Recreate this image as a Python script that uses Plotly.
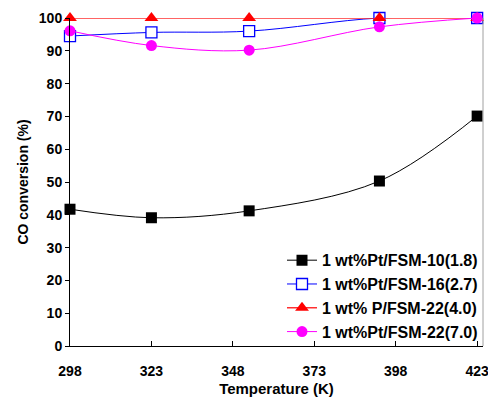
import plotly.graph_objects as go

temps = [298, 323, 353, 393, 423]
s_fsm10 = [41.7, 39.1, 41.2, 50.3, 70.1]
s_fsm16 = [94.5, 95.6, 96.0, 100.0, 100.0]
s_fsm22a = [100, 100, 100, 100, 100]
s_fsm22b = [96.1, 91.6, 90.2, 97.3, 100.0]
names = ["1 wt%Pt/FSM-10(1.8)", "1 wt%Pt/FSM-16(2.7)", "1 wt% P/FSM-22(4.0)", "1 wt%Pt/FSM-22(7.0)"]
x_ticks = [298, 323, 348, 373, 398, 423]
y_ticks = [0, 10, 20, 30, 40, 50, 60, 70, 80, 90, 100]

FONT = "Liberation Sans, Arial, sans-serif"

fig = go.Figure()
fig.add_trace(go.Scatter(x=temps, y=s_fsm10, name=names[0], mode="lines+markers",
                         line=dict(color="black", width=1, shape="spline"),
                         marker=dict(symbol="square", size=11, color="black"), cliponaxis=False))
fig.add_trace(go.Scatter(x=temps, y=s_fsm16, name=names[1], mode="lines+markers",
                         line=dict(color="#0000FF", width=1, shape="spline"),
                         marker=dict(symbol="square", size=11, color="white", line=dict(color="#0000FF", width=1.3)), cliponaxis=False))
fig.add_trace(go.Scatter(x=temps, y=s_fsm22a, name=names[2], mode="lines+markers",
                         line=dict(color="#FF3030", width=1.5, shape="spline"),
                         marker=dict(symbol="triangle-up", size=12, color="#FF0000"), cliponaxis=False))
fig.add_trace(go.Scatter(x=temps, y=s_fsm22b, name=names[3], mode="lines+markers",
                         line=dict(color="#FF00FF", width=1, shape="spline"),
                         marker=dict(symbol="circle", size=11, color="#FF00FF"), cliponaxis=False))

fig.add_shape(type="line", xref="paper", yref="paper", x0=1, x1=1, y0=0, y1=1,
              line=dict(color="#A0A0A0", width=1))

fig.update_layout(
    width=488, height=397,
    margin=dict(l=70, r=5, t=18, b=51, autoexpand=False),
    paper_bgcolor="white", plot_bgcolor="white",
    font=dict(family=FONT, size=14, color="black"),
    showlegend=True,
    legend=dict(x=1.0, xanchor="right", y=-0.01, yanchor="bottom",
                bgcolor="rgba(0,0,0,0)", font=dict(size=16, family=FONT, weight="bold"),
                itemwidth=30, tracegroupgap=0),
    xaxis=dict(range=[298, 424.8], tickvals=x_ticks, ticktext=[str(v) for v in x_ticks],
               showgrid=False, zeroline=False, showline=True, linecolor="black", linewidth=1,
               ticks="inside", ticklen=5, tickcolor="black", ticklabeloverflow="allow",
               ticklabelstandoff=12, automargin=False,
               tickfont=dict(size=14, family=FONT, weight="bold"),
               title=dict(text="Temperature (K)", font=dict(size=15, family=FONT, weight="bold"), standoff=7)),
    yaxis=dict(range=[0, 100], tickvals=y_ticks, automargin=False,
               showgrid=False, zeroline=False, showline=True, linecolor="black", linewidth=1,
               ticks="outside", ticklen=4, tickcolor="black",
               tickfont=dict(size=14, family=FONT, weight="bold"),
               title=dict(text="CO conversion (%)", font=dict(size=14, family=FONT, weight="bold"), standoff=6)),
)

fig.write_html("out.html", config={"displayModeBar": False},
               post_script="document.body.style.margin='0';document.body.style.overflow='hidden';")
